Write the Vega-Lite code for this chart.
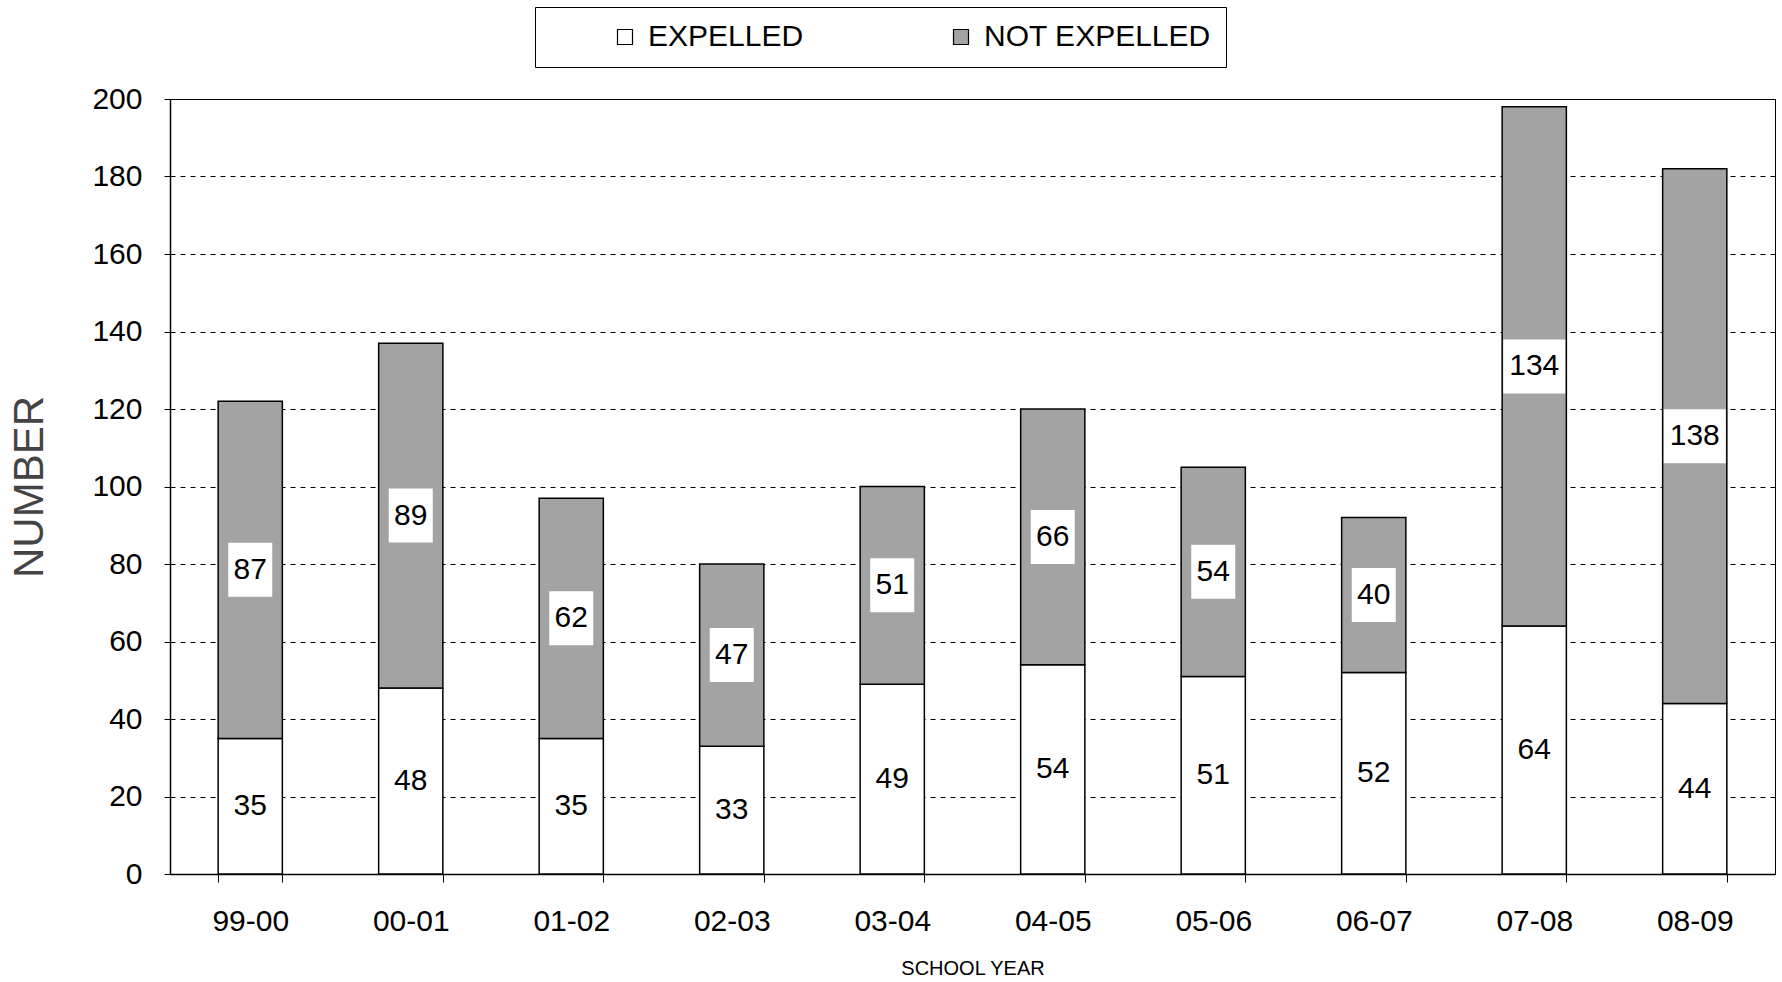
{
  "$schema": "https://vega.github.io/schema/vega-lite/v6.json",
  "width": 1605,
  "height": 775,
  "autosize": {"type": "none"},
  "padding": {"left": 170, "top": 99, "right": 7, "bottom": 108},
  "background": "white",
  "config": {
    "font": "Liberation Sans",
    "view": {"stroke": "black", "strokeWidth": 1},
    "axis": {
      "labelFont": "Liberation Sans",
      "titleFont": "Liberation Sans",
      "labelColor": "black",
      "titleColor": "black",
      "domainColor": "black",
      "tickColor": "black",
      "labelFontSize": 30,
      "titleFontWeight": "normal"
    },
    "axisY": {
      "titleFontSize": 42,
      "titleColor": "#444444",
      "titlePadding": 40,
      "labelPadding": 22,
      "tickSize": 6,
      "domainWidth": 1.5,
      "grid": true,
      "gridColor": "black",
      "gridDash": [5, 5],
      "gridWidth": 1,
      "gridOpacity": 1
    }
  },
  "data": {
    "values": [
      {"year": "99-00", "status": "EXPELLED", "count": 35},
      {"year": "99-00", "status": "NOT EXPELLED", "count": 87},
      {"year": "00-01", "status": "EXPELLED", "count": 48},
      {"year": "00-01", "status": "NOT EXPELLED", "count": 89},
      {"year": "01-02", "status": "EXPELLED", "count": 35},
      {"year": "01-02", "status": "NOT EXPELLED", "count": 62},
      {"year": "02-03", "status": "EXPELLED", "count": 33},
      {"year": "02-03", "status": "NOT EXPELLED", "count": 47},
      {"year": "03-04", "status": "EXPELLED", "count": 49},
      {"year": "03-04", "status": "NOT EXPELLED", "count": 51},
      {"year": "04-05", "status": "EXPELLED", "count": 54},
      {"year": "04-05", "status": "NOT EXPELLED", "count": 66},
      {"year": "05-06", "status": "EXPELLED", "count": 51},
      {"year": "05-06", "status": "NOT EXPELLED", "count": 54},
      {"year": "06-07", "status": "EXPELLED", "count": 52},
      {"year": "06-07", "status": "NOT EXPELLED", "count": 40},
      {"year": "07-08", "status": "EXPELLED", "count": 64},
      {"year": "07-08", "status": "NOT EXPELLED", "count": 134},
      {"year": "08-09", "status": "EXPELLED", "count": 44},
      {"year": "08-09", "status": "NOT EXPELLED", "count": 138}
    ]
  },
  "encoding": {
    "x": {
      "field": "year",
      "type": "nominal",
      "sort": null,
      "scale": {"paddingInner": 0.6, "paddingOuter": 0.3},
      "axis": {
        "title": "SCHOOL YEAR",
        "titleFontSize": 20,
        "titlePadding": 22,
        "labelAngle": 0,
        "labelPadding": 24,
        "tickSize": 8,
        "tickBand": "extent",
        "domainWidth": 1.5,
        "grid": false
      }
    }
  },
  "layer": [
    {
      "mark": {"type": "bar", "stroke": "black", "strokeWidth": 1.5},
      "encoding": {
        "y": {
          "aggregate": "sum",
          "field": "count",
          "type": "quantitative",
          "stack": "zero",
          "title": "NUMBER",
          "scale": {"domain": [0, 200], "nice": false},
          "axis": {"values": [0, 20, 40, 60, 80, 100, 120, 140, 160, 180, 200]}
        },
        "order": {"field": "status", "sort": "ascending"},
        "color": {
          "field": "status",
          "type": "nominal",
          "scale": {"domain": ["EXPELLED", "NOT EXPELLED"], "range": ["white", "#a3a3a3"]},
          "legend": {
            "title": null,
            "orient": "none",
            "legendX": 365,
            "legendY": -92,
            "direction": "horizontal",
            "strokeColor": "black",
            "fillColor": "white",
            "padding": 15,
            "symbolType": "square",
            "symbolSize": 225,
            "symbolOffset": 60,
            "symbolStrokeColor": "black",
            "symbolStrokeWidth": 1.2,
            "labelFontSize": 30,
            "labelFont": "Liberation Sans",
            "labelColor": "black",
            "labelOffset": 8,
            "labelLimit": 500,
            "columnPadding": 82
          }
        }
      }
    },
    {
      "transform": [
        {"stack": "count", "groupby": ["year"], "sort": [{"field": "status"}], "as": ["y0", "y1"]},
        {"calculate": "(datum.y0 + datum.y1) / 2", "as": "mid"},
        {"filter": "datum.status == 'NOT EXPELLED'"}
      ],
      "mark": {"type": "tick", "color": "white", "opacity": 1, "thickness": 54, "orient": "horizontal"},
      "encoding": {
        "y": {"field": "mid", "type": "quantitative", "title": "NUMBER"},
        "size": {"condition": {"test": "datum.count >= 100", "value": 62}, "value": 44}
      }
    },
    {
      "transform": [
        {"stack": "count", "groupby": ["year"], "sort": [{"field": "status"}], "as": ["y0", "y1"]},
        {"calculate": "(datum.y0 + datum.y1) / 2", "as": "mid"}
      ],
      "mark": {"type": "text", "fontSize": 30, "color": "black", "font": "Liberation Sans", "baseline": "middle", "align": "center"},
      "encoding": {
        "y": {"field": "mid", "type": "quantitative", "title": "NUMBER"},
        "text": {"field": "count", "type": "quantitative"}
      }
    }
  ]
}
